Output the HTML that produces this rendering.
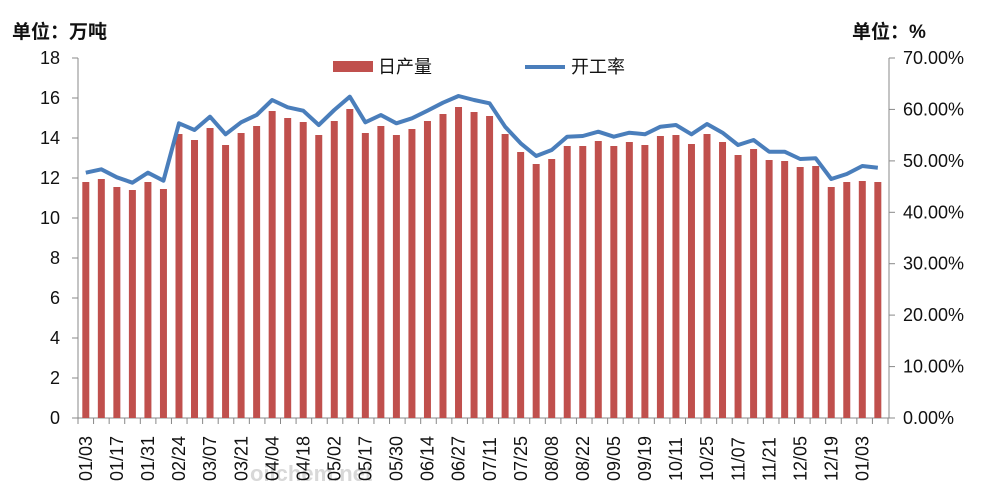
<!DOCTYPE html>
<html><head><meta charset="utf-8"><style>
html,body{margin:0;padding:0;background:#fff;}
svg{display:block;font-family:"Liberation Sans","Noto Sans CJK SC",sans-serif;}
</style></head><body>
<svg width="988" height="499" viewBox="0 0 988 499" xmlns="http://www.w3.org/2000/svg">
<rect width="988" height="499" fill="#fff"/>
<text x="12" y="38" font-size="19" font-weight="bold" fill="#111">单位：万吨</text>
<text x="852" y="38" font-size="19" font-weight="bold" fill="#111">单位：%</text>
<!-- legend -->
<rect x="333" y="61" width="40" height="11" fill="#C0504D"/>
<text x="378" y="73" font-size="18" fill="#111">日产量</text>
<line x1="525" y1="67" x2="565" y2="67" stroke="#4A7EBB" stroke-width="4"/>
<text x="571" y="73" font-size="18" fill="#111">开工率</text>
<!-- axes -->
<g stroke="#888" stroke-width="1">
<line x1="78" y1="58" x2="78" y2="418"/>
<line x1="889" y1="58" x2="889" y2="418"/>
<line x1="78" y1="418" x2="889" y2="418"/>
<line x1="72" y1="58" x2="78" y2="58"/><line x1="72" y1="98" x2="78" y2="98"/><line x1="72" y1="138" x2="78" y2="138"/><line x1="72" y1="178" x2="78" y2="178"/><line x1="72" y1="218" x2="78" y2="218"/><line x1="72" y1="258" x2="78" y2="258"/><line x1="72" y1="298" x2="78" y2="298"/><line x1="72" y1="338" x2="78" y2="338"/><line x1="72" y1="378" x2="78" y2="378"/><line x1="72" y1="418" x2="78" y2="418"/>
<line x1="889" y1="58" x2="895" y2="58"/><line x1="889" y1="109.4" x2="895" y2="109.4"/><line x1="889" y1="160.9" x2="895" y2="160.9"/><line x1="889" y1="212.3" x2="895" y2="212.3"/><line x1="889" y1="263.7" x2="895" y2="263.7"/><line x1="889" y1="315.1" x2="895" y2="315.1"/><line x1="889" y1="366.6" x2="895" y2="366.6"/><line x1="889" y1="418" x2="895" y2="418"/>
</g>
<g transform="translate(78,0) scale(15.577,1)" stroke="#888">
<path vector-effect="non-scaling-stroke" d="M0 418V424M1 418V424M2 418V424M3 418V424M4 418V424M5 418V424M6 418V424M7 418V424M8 418V424M9 418V424M10 418V424M11 418V424M12 418V424M13 418V424M14 418V424M15 418V424M16 418V424M17 418V424M18 418V424M19 418V424M20 418V424M21 418V424M22 418V424M23 418V424M24 418V424M25 418V424M26 418V424M27 418V424M28 418V424M29 418V424M30 418V424M31 418V424M32 418V424M33 418V424M34 418V424M35 418V424M36 418V424M37 418V424M38 418V424M39 418V424M40 418V424M41 418V424M42 418V424M43 418V424M44 418V424M45 418V424M46 418V424M47 418V424M48 418V424M49 418V424M50 418V424M51 418V424M52 418V424"/>
</g>
<g font-size="18" fill="#111" text-anchor="end">
<text x="60" y="64">18</text><text x="60" y="104">16</text><text x="60" y="144">14</text><text x="60" y="184">12</text><text x="60" y="224">10</text><text x="60" y="264">8</text><text x="60" y="304">6</text><text x="60" y="344">4</text><text x="60" y="384">2</text><text x="60" y="424">0</text>
</g>
<g font-size="18" fill="#111">
<text x="903" y="64">70.00%</text><text x="903" y="115.4">60.00%</text><text x="903" y="166.9">50.00%</text><text x="903" y="218.3">40.00%</text><text x="903" y="269.7">30.00%</text><text x="903" y="321.1">20.00%</text><text x="903" y="372.6">10.00%</text><text x="903" y="424">0.00%</text>
</g>
<!-- bars -->
<g transform="translate(85.8,418) scale(15.53,-20)" fill="#C0504D">
<rect x="-0.225" width="0.45" y="0" height="11.8"/><rect x="0.775" width="0.45" y="0" height="11.95"/><rect x="1.775" width="0.45" y="0" height="11.55"/><rect x="2.775" width="0.45" y="0" height="11.4"/><rect x="3.775" width="0.45" y="0" height="11.8"/><rect x="4.775" width="0.45" y="0" height="11.45"/><rect x="5.775" width="0.45" y="0" height="14.2"/><rect x="6.775" width="0.45" y="0" height="13.9"/><rect x="7.775" width="0.45" y="0" height="14.5"/><rect x="8.775" width="0.45" y="0" height="13.65"/>
<rect x="9.775" width="0.45" y="0" height="14.25"/><rect x="10.775" width="0.45" y="0" height="14.6"/><rect x="11.775" width="0.45" y="0" height="15.35"/><rect x="12.775" width="0.45" y="0" height="15.0"/><rect x="13.775" width="0.45" y="0" height="14.8"/><rect x="14.775" width="0.45" y="0" height="14.15"/><rect x="15.775" width="0.45" y="0" height="14.85"/><rect x="16.775" width="0.45" y="0" height="15.45"/><rect x="17.775" width="0.45" y="0" height="14.25"/><rect x="18.775" width="0.45" y="0" height="14.6"/>
<rect x="19.775" width="0.45" y="0" height="14.15"/><rect x="20.775" width="0.45" y="0" height="14.45"/><rect x="21.775" width="0.45" y="0" height="14.85"/><rect x="22.775" width="0.45" y="0" height="15.2"/><rect x="23.775" width="0.45" y="0" height="15.55"/><rect x="24.775" width="0.45" y="0" height="15.3"/><rect x="25.775" width="0.45" y="0" height="15.1"/><rect x="26.775" width="0.45" y="0" height="14.2"/><rect x="27.775" width="0.45" y="0" height="13.3"/><rect x="28.775" width="0.45" y="0" height="12.7"/>
<rect x="29.775" width="0.45" y="0" height="12.95"/><rect x="30.775" width="0.45" y="0" height="13.6"/><rect x="31.775" width="0.45" y="0" height="13.6"/><rect x="32.775" width="0.45" y="0" height="13.85"/><rect x="33.775" width="0.45" y="0" height="13.6"/><rect x="34.775" width="0.45" y="0" height="13.8"/><rect x="35.775" width="0.45" y="0" height="13.65"/><rect x="36.775" width="0.45" y="0" height="14.1"/><rect x="37.775" width="0.45" y="0" height="14.15"/><rect x="38.775" width="0.45" y="0" height="13.7"/>
<rect x="39.775" width="0.45" y="0" height="14.2"/><rect x="40.775" width="0.45" y="0" height="13.8"/><rect x="41.775" width="0.45" y="0" height="13.15"/><rect x="42.775" width="0.45" y="0" height="13.45"/><rect x="43.775" width="0.45" y="0" height="12.9"/><rect x="44.775" width="0.45" y="0" height="12.85"/><rect x="45.775" width="0.45" y="0" height="12.55"/><rect x="46.775" width="0.45" y="0" height="12.6"/><rect x="47.775" width="0.45" y="0" height="11.55"/><rect x="48.775" width="0.45" y="0" height="11.8"/>
<rect x="49.775" width="0.45" y="0" height="11.85"/><rect x="50.775" width="0.45" y="0" height="11.8"/>
</g>
<!-- line -->
<g transform="translate(85.8,0) scale(15.53,1)">
<polyline vector-effect="non-scaling-stroke" fill="none" stroke="#4A7EBB" stroke-width="4" stroke-linejoin="round" points="0,172.7 1,169.3 2,177.3 3,182.7 4,172.7 5,180.7 6,123.3 7,130 8,116.7 9,134.3 10,122.3 11,115 12,100 13,107.3 14,110.7 15,125 16,110 17,96.7 18,122.3 19,115 20,123.3 21,118.3 22,110.7 23,102.7 24,96 25,100 26,103.3 27,126.7 28,143.3 29,156 30,150 31,136.7 32,136 33,131.7 34,136.7 35,132.7 36,134.3 37,126.7 38,125 39,134.3 40,124 41,132.7 42,145 43,140 44,151.7 45,151.7 46,159 47,158.3 48,179 49,174 50,166 51,167.7"/>
</g>
<!-- watermark -->
<text x="250" y="481" font-size="22" font-weight="bold" fill="#d8d8d8">oilchem.net</text>
<!-- x labels -->
<g font-size="18" fill="#111">
<text transform="translate(92,481) rotate(-90)">01/03</text>
<text transform="translate(123.1,481) rotate(-90)">01/17</text>
<text transform="translate(154.1,481) rotate(-90)">01/31</text>
<text transform="translate(185.2,481) rotate(-90)">02/24</text>
<text transform="translate(216.2,481) rotate(-90)">03/07</text>
<text transform="translate(247.3,481) rotate(-90)">03/21</text>
<text transform="translate(278.4,481) rotate(-90)">04/04</text>
<text transform="translate(309.4,481) rotate(-90)">04/18</text>
<text transform="translate(340.5,481) rotate(-90)">05/02</text>
<text transform="translate(371.5,481) rotate(-90)">05/17</text>
<text transform="translate(402.6,481) rotate(-90)">05/30</text>
<text transform="translate(433.7,481) rotate(-90)">06/14</text>
<text transform="translate(464.7,481) rotate(-90)">06/27</text>
<text transform="translate(495.8,481) rotate(-90)">07/11</text>
<text transform="translate(526.8,481) rotate(-90)">07/25</text>
<text transform="translate(557.9,481) rotate(-90)">08/08</text>
<text transform="translate(589,481) rotate(-90)">08/22</text>
<text transform="translate(620,481) rotate(-90)">09/05</text>
<text transform="translate(651.1,481) rotate(-90)">09/19</text>
<text transform="translate(682.1,481) rotate(-90)">10/11</text>
<text transform="translate(713.2,481) rotate(-90)">10/25</text>
<text transform="translate(744.3,481) rotate(-90)">11/07</text>
<text transform="translate(775.3,481) rotate(-90)">11/21</text>
<text transform="translate(806.4,481) rotate(-90)">12/05</text>
<text transform="translate(837.4,481) rotate(-90)">12/19</text>
<text transform="translate(868.5,481) rotate(-90)">01/03</text>
</g>
</svg>
</body></html>
